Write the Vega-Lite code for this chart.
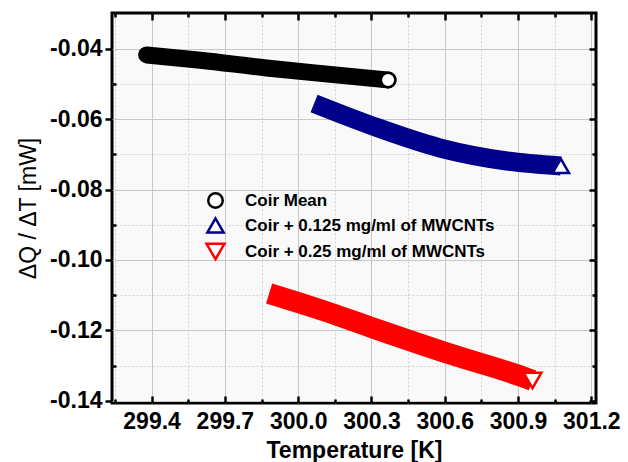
{
  "$schema": "https://vega.github.io/schema/vega-lite/v6.json",
  "width": 484,
  "height": 390,
  "autosize": {"type": "none"},
  "padding": {"left": 112, "top": 13, "right": 32, "bottom": 59},
  "background": "white",
  "config": {
    "font": "Liberation Sans",
    "view": {"stroke": "black", "strokeWidth": 3, "fill": "#f9f9f9"},
    "axis": {
      "domain": false,
      "tickColor": "black",
      "tickWidth": 2.5,
      "labelFont": "Liberation Sans",
      "labelFontWeight": "bold",
      "labelFontSize": 23,
      "labelColor": "black",
      "titleFont": "Liberation Sans",
      "titleColor": "black",
      "gridColor": "#c8c8c8",
      "gridWidth": 1,
      "gridOpacity": 1,
      "labelOverlap": false,
      "labelFlush": false,
      "labelBound": false
    },
    "legend": {
      "labelFont": "Liberation Sans",
      "labelFontSize": 17,
      "labelFontWeight": "bold",
      "labelColor": "black",
      "labelLimit": 0,
      "symbolSize": 260,
      "symbolStrokeWidth": 2.5,
      "rowPadding": 0,
      "labelOffset": 19,
      "padding": 0
    }
  },
  "datasets": {
    "curves": [
      {"series": "Coir Mean", "T": 299.38, "dQ": -0.0418},
      {"series": "Coir Mean", "T": 299.6, "dQ": -0.0433},
      {"series": "Coir Mean", "T": 299.87, "dQ": -0.0455},
      {"series": "Coir Mean", "T": 300.1, "dQ": -0.0471},
      {"series": "Coir Mean", "T": 300.368, "dQ": -0.0489},
      {"series": "Coir + 0.125 mg/ml of MWCNTs", "T": 300.065, "dQ": -0.0556},
      {"series": "Coir + 0.125 mg/ml of MWCNTs", "T": 300.306, "dQ": -0.062},
      {"series": "Coir + 0.125 mg/ml of MWCNTs", "T": 300.58, "dQ": -0.0682},
      {"series": "Coir + 0.125 mg/ml of MWCNTs", "T": 300.854, "dQ": -0.0719},
      {"series": "Coir + 0.125 mg/ml of MWCNTs", "T": 301.075, "dQ": -0.0733},
      {"series": "Coir + 0.25 mg/ml of MWCNTs", "T": 299.881, "dQ": -0.1095},
      {"series": "Coir + 0.25 mg/ml of MWCNTs", "T": 300.1, "dQ": -0.1143},
      {"series": "Coir + 0.25 mg/ml of MWCNTs", "T": 300.306, "dQ": -0.1193},
      {"series": "Coir + 0.25 mg/ml of MWCNTs", "T": 300.609, "dQ": -0.1264},
      {"series": "Coir + 0.25 mg/ml of MWCNTs", "T": 300.92, "dQ": -0.1332},
      {"series": "Coir + 0.25 mg/ml of MWCNTs", "T": 300.959, "dQ": -0.1342}
    ],
    "ends": [
      {"series": "Coir Mean", "T": 300.368, "dQ": -0.0489},
      {"series": "Coir + 0.125 mg/ml of MWCNTs", "T": 301.075, "dQ": -0.0733},
      {"series": "Coir + 0.25 mg/ml of MWCNTs", "T": 300.959, "dQ": -0.1342}
    ]
  },
  "resolve": {"axis": {"x": "independent", "y": "independent"}},
  "layer": [
    {
      "data": {"name": "curves"},
      "transform": [{"filter": "datum.series === 'Coir Mean'"}],
      "mark": {"type": "line", "color": "black", "strokeWidth": 17, "strokeCap": "round", "strokeJoin": "round", "interpolate": "monotone"},
      "encoding": {
        "x": {
          "field": "T", "type": "quantitative",
          "scale": {"domain": [299.238, 301.219], "nice": false, "zero": false},
          "axis": {"orient": "bottom", "values": [299.4, 299.7, 300.0, 300.3, 300.6, 300.9, 301.2], "format": ".1f", "grid": true, "tickSize": -7, "labelPadding": 14, "title": "Temperature [K]", "titleFontSize": 23, "titleFontWeight": "bold", "titlePadding": 6}
        },
        "y": {
          "field": "dQ", "type": "quantitative",
          "scale": {"domain": [-0.1406, -0.0299], "nice": false, "zero": false},
          "axis": {"orient": "left", "values": [-0.14, -0.12, -0.1, -0.08, -0.06, -0.04], "format": ".2f", "labelExpr": "replace(datum.label, '−', '-')", "grid": true, "tickSize": 7, "labelPadding": 3, "title": "ΔQ / ΔT [mW]", "titleFontSize": 23, "titleFontWeight": "normal", "titleColor": "black", "titlePadding": 9}
        }
      }
    },
    {
      "data": {"name": "curves"},
      "transform": [{"filter": "datum.series === 'Coir + 0.125 mg/ml of MWCNTs'"}],
      "mark": {"type": "line", "color": "#00008b", "strokeWidth": 19, "strokeCap": "butt", "strokeJoin": "miter", "interpolate": "monotone"},
      "encoding": {
        "x": {
          "field": "T", "type": "quantitative",
          "scale": {"domain": [299.238, 301.219], "nice": false, "zero": false},
          "axis": {"orient": "bottom", "values": [299.25, 299.55, 299.85, 300.15, 300.45, 300.75, 301.05], "grid": true, "gridDash": [2, 2], "gridColor": "#d2d2d2", "tickSize": -4, "labels": false, "title": null}
        },
        "y": {
          "field": "dQ", "type": "quantitative",
          "scale": {"domain": [-0.1406, -0.0299], "nice": false, "zero": false},
          "axis": {"orient": "left", "values": [-0.13, -0.11, -0.09, -0.07, -0.05], "grid": true, "gridDash": [2, 2], "gridColor": "#d2d2d2", "tickSize": -4, "labels": false, "title": null}
        }
      }
    },
    {
      "data": {"name": "curves"},
      "transform": [{"filter": "datum.series === 'Coir + 0.25 mg/ml of MWCNTs'"}],
      "mark": {"type": "line", "color": "#ff0000", "strokeWidth": 21, "strokeCap": "butt", "strokeJoin": "miter", "interpolate": "monotone"},
      "encoding": {
        "x": {
          "field": "T", "type": "quantitative",
          "scale": {"domain": [299.238, 301.219], "nice": false, "zero": false},
          "axis": {"orient": "top", "values": [299.4, 299.7, 300.0, 300.3, 300.6, 300.9, 301.2], "grid": false, "tickSize": -7, "labels": false, "title": null}
        },
        "y": {
          "field": "dQ", "type": "quantitative",
          "scale": {"domain": [-0.1406, -0.0299], "nice": false, "zero": false},
          "axis": {"orient": "right", "values": [-0.14, -0.12, -0.1, -0.08, -0.06, -0.04], "grid": false, "tickSize": -7, "labels": false, "title": null}
        }
      }
    },
    {
      "data": {"name": "ends"},
      "mark": {"type": "point", "filled": false, "fill": "white", "strokeWidth": 2.5, "opacity": 1},
      "encoding": {
        "x": {
          "field": "T", "type": "quantitative",
          "scale": {"domain": [299.238, 301.219], "nice": false, "zero": false},
          "axis": {"orient": "top", "values": [299.25, 299.55, 299.85, 300.15, 300.45, 300.75, 301.05], "grid": false, "tickSize": -4, "labels": false, "title": null}
        },
        "y": {
          "field": "dQ", "type": "quantitative",
          "scale": {"domain": [-0.1406, -0.0299], "nice": false, "zero": false},
          "axis": {"orient": "right", "values": [-0.13, -0.11, -0.09, -0.07, -0.05], "grid": false, "tickSize": -4, "labels": false, "title": null}
        },
        "color": {
          "field": "series", "type": "nominal",
          "scale": {"domain": ["Coir Mean", "Coir + 0.125 mg/ml of MWCNTs", "Coir + 0.25 mg/ml of MWCNTs"], "range": ["#000000", "#00008b", "#ff0000"]},
          "legend": {"orient": "none", "legendX": 93, "legendY": 179, "title": null}
        },
        "shape": {
          "field": "series", "type": "nominal",
          "scale": {"domain": ["Coir Mean", "Coir + 0.125 mg/ml of MWCNTs", "Coir + 0.25 mg/ml of MWCNTs"], "range": ["circle", "triangle-up", "triangle-down"]},
          "legend": {"orient": "none", "legendX": 93, "legendY": 179, "title": null}
        },
        "size": {
          "field": "series", "type": "ordinal",
          "scale": {"domain": ["Coir Mean", "Coir + 0.125 mg/ml of MWCNTs", "Coir + 0.25 mg/ml of MWCNTs"], "range": [210, 320, 320]},
          "legend": null
        }
      }
    }
  ]
}
